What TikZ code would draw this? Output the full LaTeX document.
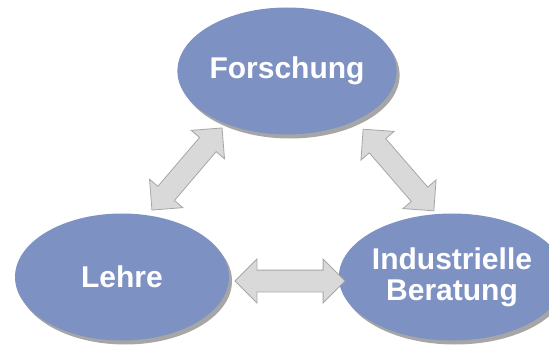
\documentclass[tikz,border=0pt]{standalone}
\usepackage{fontspec}
\setmainfont{Liberation Sans}
\usetikzlibrary{shapes.geometric, shapes.arrows, shadows}

\definecolor{ovalblue}{RGB}{125,146,194}
\definecolor{arrowfill}{RGB}{217,217,217}
\definecolor{arrowline}{RGB}{166,166,166}

\begin{document}
\begin{tikzpicture}[x=1pt, y=1pt,
    oval/.style={ellipse, fill=ovalblue, minimum width=214pt, minimum height=127pt,
      inner sep=0pt, text=white, align=center,
      font=\bfseries\fontsize{30}{31}\selectfont,
      drop shadow={shadow xshift=3pt, shadow yshift=-4pt, fill=black!35, opacity=1}},
    bothways/.style={double arrow, fill=arrowfill, draw=arrowline, line width=0.8pt,
      inner xsep=0pt, inner ysep=10.5pt, double arrow head extend=11pt,
      double arrow tip angle=90, sloped}]
    \useasboundingbox (0, 0) rectangle (549, 349);
    % ovals
    \node [oval] (forschung) at (287, 278) {Forschung};
    \node [oval] (lehre)     at (122, 72)  {Lehre};
    \node [oval] (beratung)  at (452, 72)  {Industrielle\\Beratung};
    % arrow ends
    \coordinate (lf1) at (152, 139);
    \coordinate (lf2) at (222, 221);
    \coordinate (fb1) at (363, 220);
    \coordinate (fb2) at (434, 138);
    \coordinate (lb1) at (235, 68);
    \coordinate (lb2) at (345, 68);
    % arrows
    \path (lf1) -- (lf2) node [bothways, midway, minimum height=108pt] (a1) {};
    \path (fb1) -- (fb2) node [bothways, midway, minimum height=108pt] (a2) {};
    \path (lb1) -- (lb2) node [bothways, midway, minimum height=110pt] (a3) {};
  \end{tikzpicture}
\end{document}
